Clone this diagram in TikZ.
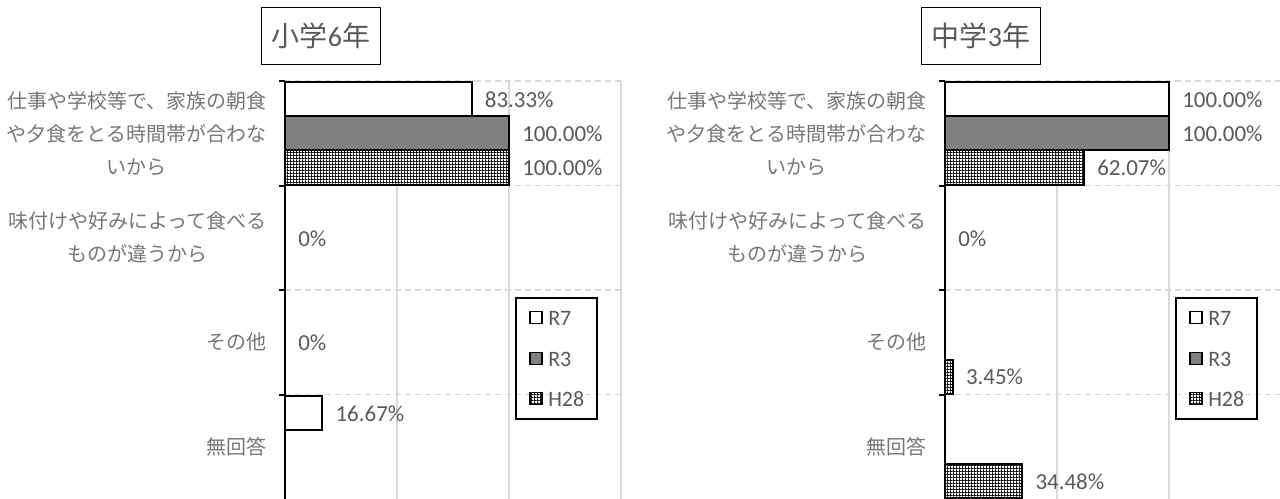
\documentclass[tikz,border=0pt]{standalone}
\usepackage{fontspec}
\setmainfont{Carlito}
\newfontfamily\jp{Noto Sans CJK JP}
\usetikzlibrary{patterns}
\definecolor{txtgray}{HTML}{595959}
\definecolor{catgray}{HTML}{767676}
\definecolor{gridgray}{HTML}{D9D9D9}
\definecolor{bargray}{HTML}{808080}

% fine dot grid for the H28 bars
\pgfdeclarepatternformonly{dotgrid}{\pgfpointorigin}{\pgfpoint{2.4pt}{2.4pt}}{\pgfpoint{2.4pt}{2.4pt}}{
  \pgfpathrectangle{\pgfpointorigin}{\pgfpoint{2.4pt}{0.75pt}}
  \pgfpathrectangle{\pgfpointorigin}{\pgfpoint{0.75pt}{2.4pt}}
  \pgfusepath{fill}}

\begin{document}
\begin{tikzpicture}[x=0.75pt,y=-0.75pt,
  r7/.style={draw=black,line width=1.5pt,fill=white},
  r3/.style={draw=black,line width=1.5pt,fill=bargray},
  h28/.style={draw=black,line width=1.5pt,pattern=dotgrid},
  vgrid/.style={gridgray,line width=1pt},
  hgrid/.style={gridgray,line width=1pt,dash pattern=on 4.5pt off 3pt},
  cat/.style={anchor=east,align=center,text=catgray,inner sep=0pt,
    font=\jp\fontsize{15}{24.75}\selectfont},
  val/.style={anchor=west,text=txtgray,inner sep=0pt,font=\fontsize{17.2}{20}\selectfont},
  key/.style={anchor=west,text=txtgray,inner sep=0pt,font=\fontsize{16.5}{19}\selectfont},
  ttl/.style={draw=black,line width=1.2pt,text=txtgray,minimum width=89pt,
    minimum height=43pt,inner sep=0pt,font=\fontsize{21}{25}\selectfont}]
  \useasboundingbox (0,0) rectangle (1280,499);

  % both charts share frame, categories and legend
  \foreach \ox/\pf/\gr/\lv in {285/L/6/小学,945/R/3/中学}{
    \begin{scope}[shift={(\ox,0)}]
      \foreach \g in {112,224,336}
        \draw[vgrid] (\g,81) -- (\g,499);
      \foreach \b in {81,185.5,290,394.5}
        \draw[hgrid] (0,\b) -- (336,\b);

      \node[ttl] (\pf-title) at (36,36) {{\jp \lv}\gr{\jp 年}};

      \node[cat] (\pf-c1) at (-18,133.25) {仕事や学校等で、家族の朝食\\や夕食をとる時間帯が合わな\\いから};
      \node[cat] (\pf-c2) at (-18,237.75) {味付けや好みによって食べる\\ものが違うから};
      \node[cat] (\pf-c3) at (-18,342.25) {その他};
      \node[cat] (\pf-c4) at (-18,446.75) {無回答};

      % legend
      \draw[line width=1.5pt] (231,298) rectangle (312,419);
      \foreach \y/\st/\nm [count=\i] in {318/r7/R7,359/r3/R3,399/h28/H28}{
        \draw[\st,line width=1.2pt] (245,{\y-6.5}) rectangle (257,{\y+5.5});
        \node[key] (\pf-k\i) at (263,\y) {\nm};
      }
    \end{scope}
  }

  % 小学6年
  \begin{scope}[shift={(285,0)}]
    \foreach \c/\s/\v/\st in {0/0/83.33/r7,0/1/100/r3,0/2/100/h28,3/0/16.67/r7}
      \draw[\st] (0,{82.5+\c*104.5+\s*34}) rectangle ({\v*2.24},{116.5+\c*104.5+\s*34});
    \foreach \c/\s/\v/\t in {0/0/83.33/83.33\%,0/1/100/100.00\%,0/2/100/100.00\%,
        1/1/0/0\%,2/1/0/0\%,3/0/16.67/16.67\%}
      \node[val] (L-v\c\s) at ({\v*2.24+13},{100+\c*104.5+\s*34}) {\t};
    \draw[line width=1.5pt] (0,81) -- (0,499);
    \foreach \b in {81,185.5,290,394.5}
      \draw[line width=1.5pt] (-6,\b) -- (0,\b);
  \end{scope}

  % 中学3年
  \begin{scope}[shift={(945,0)}]
    \foreach \c/\s/\v/\st in {0/0/100/r7,0/1/100/r3,0/2/62.07/h28,2/2/3.45/h28,3/2/34.48/h28}
      \draw[\st] (0,{82.5+\c*104.5+\s*34}) rectangle ({\v*2.24},{116.5+\c*104.5+\s*34});
    \foreach \c/\s/\v/\t in {0/0/100/100.00\%,0/1/100/100.00\%,0/2/62.07/62.07\%,
        1/1/0/0\%,2/2/3.45/3.45\%,3/2/34.48/34.48\%}
      \node[val] (R-v\c\s) at ({\v*2.24+13},{100+\c*104.5+\s*34}) {\t};
    \draw[line width=1.5pt] (0,81) -- (0,499);
    \foreach \b in {81,185.5,290,394.5}
      \draw[line width=1.5pt] (-6,\b) -- (0,\b);
  \end{scope}
\end{tikzpicture}
\end{document}
